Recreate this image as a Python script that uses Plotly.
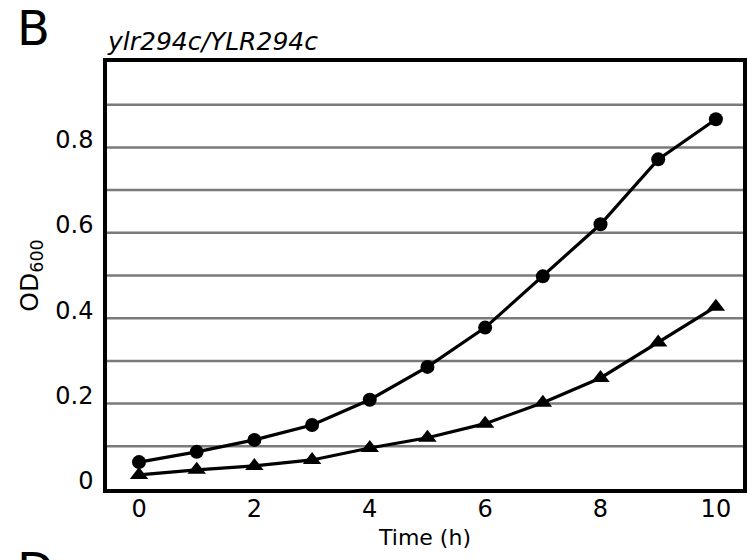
import plotly.graph_objects as go

time_h = [0, 1, 2, 3, 4, 5, 6, 7, 8, 9, 10]
od_circle = [0.063, 0.087, 0.115, 0.150, 0.209, 0.286, 0.378, 0.498, 0.620, 0.772, 0.866]
od_triangle = [0.033, 0.045, 0.054, 0.068, 0.096, 0.120, 0.153, 0.202, 0.260, 0.343, 0.427]

y_grid = [0.1, 0.2, 0.3, 0.4, 0.5, 0.6, 0.7, 0.8, 0.9]
y_tickvals = [0, 0.2, 0.4, 0.6, 0.8]
y_ticktext = ["0", "0.2", "0.4", "0.6", "0.8"]
x_tickvals = [0, 2, 4, 6, 8, 10]
x_ticktext = ["0", "2", "4", "6", "8", "10"]

font_family = "DejaVu Sans, Arial, sans-serif"

fig = go.Figure()
fig.add_trace(go.Scatter(
    x=time_h, y=od_circle, mode="lines+markers",
    line=dict(color="black", width=3.2),
    marker=dict(symbol="circle", size=14, color="black"),
    showlegend=False,
))
fig.add_trace(go.Scatter(
    x=time_h, y=od_triangle, mode="lines+markers",
    line=dict(color="black", width=3.2),
    marker=dict(symbol="triangle-up", size=16, color="black"),
    showlegend=False,
))

for g in y_grid:
    fig.add_hline(y=g, line=dict(color="#7a7a7a", width=2.5), layer="below")

fig.update_layout(
    width=747, height=560,
    margin=dict(l=107, r=4, t=62, b=71),
    plot_bgcolor="white", paper_bgcolor="white",
    font=dict(family=font_family, color="black", size=24),
    xaxis=dict(
        range=[-0.555, 10.47], tickvals=x_tickvals, ticktext=x_ticktext,
        showgrid=False, zeroline=False, showline=True, linecolor="black", linewidth=3.5,
        mirror=True, ticks="", ticklen=0, tickfont=dict(size=24), automargin=False,
        ticklabelstandoff=-5,
        title=dict(text="Time (h)", font=dict(size=22), standoff=9),
    ),
    yaxis=dict(
        range=[0, 1.0], tickvals=y_tickvals, ticktext=y_ticktext,
        showgrid=False, zeroline=False, showline=True, linecolor="black", linewidth=3.5,
        mirror=True, ticks="", ticklen=0, tickfont=dict(size=24), automargin=False,
        ticklabelshift=-8, ticklabelstandoff=5,
        title=dict(text="OD<sub>600</sub>", font=dict(size=25), standoff=11),
    ),
    annotations=[
        dict(text="B", xref="paper", yref="paper", x=-0.145, y=1.08,
             xanchor="left", yanchor="middle", showarrow=False,
             font=dict(size=48, family=font_family, color="black")),
        dict(text="<i>ylr294c/YLR294c</i>", xref="paper", yref="paper", x=-0.003, y=1.047,
             xanchor="left", yanchor="middle", showarrow=False,
             font=dict(size=25, family=font_family, color="black")),
        dict(text="D", xref="paper", yref="paper", x=-0.145, y=-0.12,
             xanchor="left", yanchor="top", showarrow=False,
             font=dict(size=48, family=font_family, color="black")),
    ],
)

fig.write_html(
    "out.html",
    config={"displayModeBar": False},
    post_script="document.body.style.margin='0';document.body.style.overflow='hidden';",
)
